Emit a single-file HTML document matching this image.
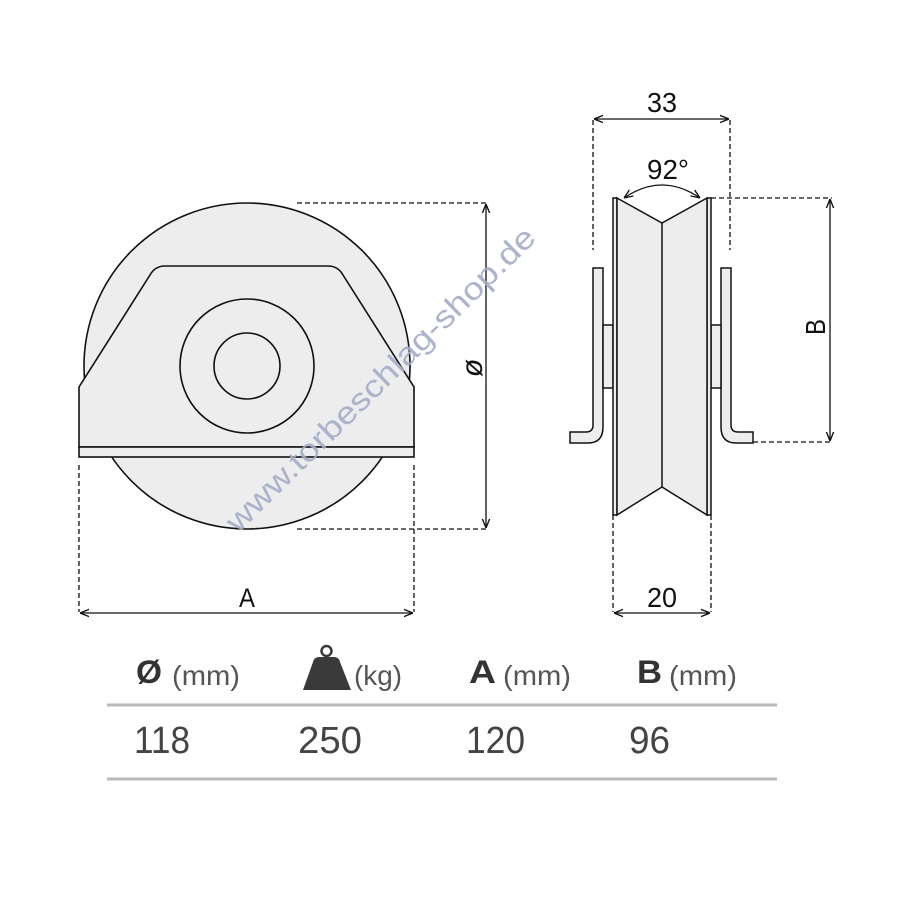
<!DOCTYPE html>
<html><head><meta charset="utf-8"><style>html,body{margin:0;padding:0;background:#fff}svg{display:block}</style></head>
<body>
<svg width="900" height="900" viewBox="0 0 900 900" xmlns="http://www.w3.org/2000/svg" font-family="Liberation Sans, sans-serif">
<defs>
<marker id="ar" viewBox="0 0 10 10" refX="10" refY="5" markerWidth="7" markerHeight="7" orient="auto-start-reverse"><path d="M0,1 L10,5 L0,9" fill="none" stroke="#111" stroke-width="1.5"/></marker>
</defs>
<g stroke="#111" stroke-width="1.6" fill="#ededed">
<circle cx="247" cy="366" r="163"/>
<path d="M79,387 L150,275 Q155,266 165,266 L328,266 Q338,266 343,275 L414,387 L414,447 L79,447 Z"/>
<rect x="79" y="447" width="335" height="10"/>
<circle cx="247" cy="366" r="67" fill="none"/>
<circle cx="247" cy="366" r="33" fill="none"/>
</g>
<g stroke="#111" stroke-width="1.3" fill="none">
<path d="M297,203 H487 M297,529 H487 M79,465 V612 M414,465 V612" stroke-dasharray="5,3"/>
<line x1="486" y1="204" x2="486" y2="528" marker-start="url(#ar)" marker-end="url(#ar)"/>
<line x1="80" y1="613" x2="413" y2="613" marker-start="url(#ar)" marker-end="url(#ar)"/>
</g>
<text x="482" y="368" font-size="30" font-style="italic" text-anchor="middle" transform="rotate(-90 482 368)" fill="#111">ø</text>
<text x="247" y="607" font-size="27" text-anchor="middle" fill="#111" textLength="16" lengthAdjust="spacingAndGlyphs">A</text>

<g stroke="#111" stroke-width="1.5" fill="#ededed">
<path d="M593,268 H603 V427 Q603,443 588,443 H570 V432 H586 Q593,432 593,425 Z"/>
<rect x="603" y="325" width="10" height="63"/>
<path d="M731,268 H721 V427 Q721,443 736,443 H753 V432 H738 Q731,432 731,425 Z"/>
<rect x="711" y="325" width="10" height="63"/>
<rect x="613" y="198" width="4" height="317"/>
<rect x="707" y="198" width="4" height="317"/>
<path d="M617,198 L662,223 L707,198 L707,515 L662,487 L617,515 Z"/>
<line x1="662" y1="223" x2="662" y2="487"/>
</g>
<g stroke="#111" stroke-width="1.3" fill="none">
<path d="M593,120 V250 M730,120 V250 M711,198 H832 M753,442 H830 M613,515 V612 M711,515 V612" stroke-dasharray="5,3"/>
<line x1="594" y1="119" x2="729" y2="119" marker-start="url(#ar)" marker-end="url(#ar)"/>
<line x1="830" y1="199" x2="830" y2="441" marker-start="url(#ar)" marker-end="url(#ar)"/>
<line x1="614" y1="613" x2="710" y2="613" marker-start="url(#ar)" marker-end="url(#ar)"/>
<path d="M624,198 Q662,172 700,198" marker-start="url(#ar)" marker-end="url(#ar)"/>
</g>
<g fill="#111" font-size="28" text-anchor="middle">
<text x="662" y="112" textLength="30" lengthAdjust="spacingAndGlyphs">33</text>
<text x="668" y="179" textLength="42" lengthAdjust="spacingAndGlyphs">92°</text>
<text x="662" y="607" textLength="30" lengthAdjust="spacingAndGlyphs">20</text>
<text x="825" y="327" transform="rotate(-90 825 327)" textLength="16" lengthAdjust="spacingAndGlyphs">B</text>
</g>

<text x="0" y="0" font-size="31" fill="#a3abc6" fill-opacity="0.9" textLength="420" lengthAdjust="spacingAndGlyphs" transform="translate(238,534) rotate(-44.5)">www.torbeschlag-shop.de</text>

<line x1="107" y1="705" x2="777" y2="705" stroke="#b8b8b8" stroke-width="3"/>
<line x1="107" y1="779" x2="777" y2="779" stroke="#b8b8b8" stroke-width="3"/>
<g font-weight="bold" font-size="32" fill="#333">
<text x="136" y="683" textLength="26" lengthAdjust="spacingAndGlyphs">Ø</text>
<text x="469" y="683" textLength="27" lengthAdjust="spacingAndGlyphs">A</text>
<text x="637" y="683" textLength="25" lengthAdjust="spacingAndGlyphs">B</text>
</g>
<path d="M313,662 Q314,657 319,657 H334 Q339,657 340,662 L351,690 H303 Z" fill="#3a3a3a"/>
<circle cx="326.5" cy="651" r="5" fill="none" stroke="#3a3a3a" stroke-width="2.5"/>
<g font-size="28" fill="#555">
<text x="172" y="685" textLength="68" lengthAdjust="spacingAndGlyphs">(mm)</text>
<text x="354" y="685" textLength="48" lengthAdjust="spacingAndGlyphs">(kg)</text>
<text x="503" y="685" textLength="68" lengthAdjust="spacingAndGlyphs">(mm)</text>
<text x="669" y="685" textLength="68" lengthAdjust="spacingAndGlyphs">(mm)</text>
</g>
<g font-size="38" fill="#444">
<text x="134" y="753" textLength="56" lengthAdjust="spacingAndGlyphs">118</text>
<text x="298" y="753" textLength="64" lengthAdjust="spacingAndGlyphs">250</text>
<text x="466" y="753" textLength="59" lengthAdjust="spacingAndGlyphs">120</text>
<text x="629" y="753" textLength="41" lengthAdjust="spacingAndGlyphs">96</text>
</g>
</svg>
</body></html>
